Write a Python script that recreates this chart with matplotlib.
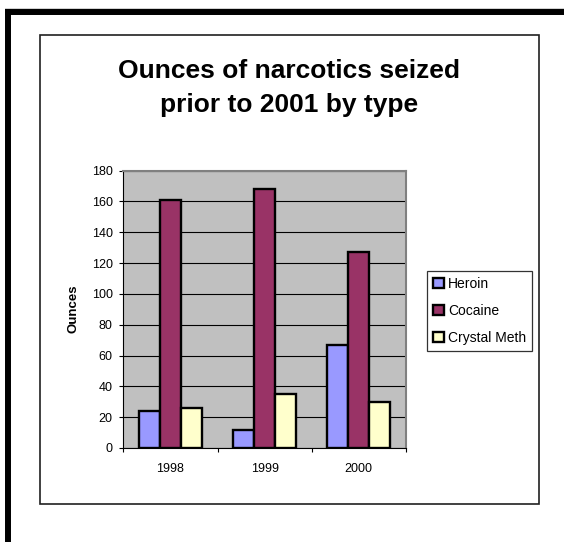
import matplotlib
matplotlib.use('Agg')
import matplotlib.pyplot as plt
from matplotlib.lines import Line2D
from matplotlib.patches import Rectangle
import numpy as np

plt.rcParams['font.family'] = ['Liberation Sans', 'DejaVu Sans']

years = ['1998', '1999', '2000']
heroin = [24, 12, 67]
cocaine = [161, 168, 127]
crystal_meth = [26, 35, 30]
series_names = ['Heroin', 'Cocaine', 'Crystal Meth']
series_colors = ['#9999FF', '#993366', '#FFFFCC']

W, H = 564, 542  # canvas size in pixels (dpi 100)


def px(x, y):
    # pixel position from top-left -> figure fraction
    return x / W, 1 - y / H


def main():
    fig = plt.figure(figsize=(W / 100, H / 100), dpi=100)

    # heavy black frame on top and left, faint line above it
    fig.add_artist(Line2D([5 / W, 1], [1 - 7.5 / H] * 2, color='#d0d0d0',
                          lw=0.7, transform=fig.transFigure))
    fig.add_artist(Line2D([5 / W, 1], [1 - 12 / H] * 2, color='black',
                          lw=4.3, solid_capstyle='butt', transform=fig.transFigure))
    fig.add_artist(Line2D([8 / W] * 2, [1 - 9 / H, 0], color='black',
                          lw=4.3, solid_capstyle='butt', transform=fig.transFigure))

    # chart area box
    x0, y0 = px(40, 504)
    fig.add_artist(Rectangle((x0, y0), 499 / W, 469 / H, fill=False,
                             ec='#202020', lw=1.2, transform=fig.transFigure))

    left, bottom = px(123.4, 448)
    ax = fig.add_axes([left, bottom, 282.4 / W, 277.4 / H])
    ax.set_facecolor('#C0C0C0')

    x = np.arange(len(years))
    bw = 0.222
    for i, (vals, name, color) in enumerate(zip([heroin, cocaine, crystal_meth],
                                                series_names, series_colors)):
        ax.bar(x + (i - 1) * bw, vals, bw, color=color, edgecolor='black',
               linewidth=1.7, label=name, zorder=3)

    ax.set_xlim(-0.5, 2.5)
    ax.set_ylim(0, 180)
    ax.set_yticks(range(0, 181, 20))
    ax.yaxis.grid(True, color='black', lw=0.8)
    ax.set_axisbelow(True)

    ax.set_xticks([-0.5, 0.5, 1.5, 2.5])
    ax.set_xticklabels([])
    ax.set_xticks(x, minor=True)
    ax.set_xticklabels(years, minor=True)
    ax.tick_params(axis='x', which='major', length=3.2, width=0.8, direction='out')
    ax.tick_params(axis='x', which='minor', length=0, pad=11, labelsize=9)
    ax.tick_params(axis='y', length=3.2, width=0.8, pad=4.6, labelsize=9)

    for side in ['top', 'right']:
        ax.spines[side].set_color('#808080')
        ax.spines[side].set_linewidth(1.5)
    for side in ['left', 'bottom']:
        ax.spines[side].set_color('black')
        ax.spines[side].set_linewidth(0.8)

    ax.legend(loc='upper left', bbox_to_anchor=px(427, 270.5),
              bbox_transform=fig.transFigure, fontsize=10, fancybox=False,
              edgecolor='#333333', framealpha=1, borderpad=0.45,
              labelspacing=0.95, handlelength=0.75, handleheight=0.75,
              handletextpad=0.3, borderaxespad=0)
    ax.get_legend().get_frame().set_linewidth(0.9)

    fig.text(*px(73.7, 309), 'Ounces', rotation=90, fontsize=9.5,
             fontweight='bold', ha='center', va='center')

    fig.text(*px(289, 77.7), 'Ounces of narcotics seized', fontsize=19,
             fontweight='bold', ha='center', va='baseline')
    fig.text(*px(289, 112.3), 'prior to 2001 by type', fontsize=19,
             fontweight='bold', ha='center', va='baseline')

    fig.savefig('out.png', dpi=100)


if __name__ == '__main__':
    main()
